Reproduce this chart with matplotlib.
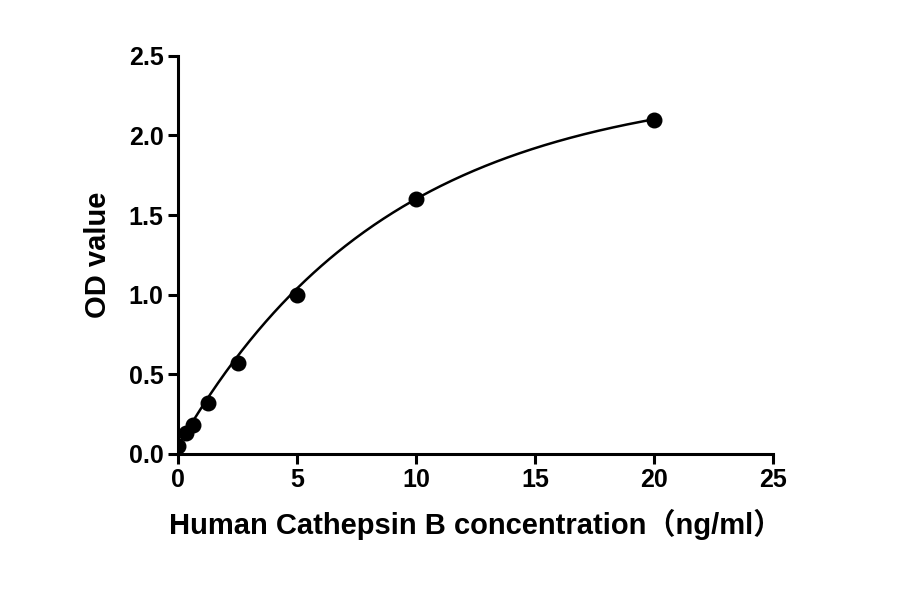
import numpy as np
import matplotlib
matplotlib.use("Agg")
import matplotlib.pyplot as plt

plt.rcParams['font.family'] = ['Liberation Sans', 'Noto Sans CJK SC', 'DejaVu Sans']
plt.rcParams['font.weight'] = 'bold'

conc = [0, 0.3125, 0.625, 1.25, 2.5, 5, 10, 20]
od = [0.05, 0.13, 0.18, 0.32, 0.57, 1.0, 1.6, 2.1]
xticks = [0, 5, 10, 15, 20, 25]
yticks = [0.0, 0.5, 1.0, 1.5, 2.0, 2.5]

fig = plt.figure(figsize=(9, 5.94), dpi=100)
ax = fig.add_axes([0.198, 0.236, 0.661, 0.670])

# saturating fit curve
a, b, c = 0.05, 2.29, 8.84
xs = np.linspace(0, max(conc), 300)
ax.plot(xs, a + b * (1 - np.exp(-xs / c)), color='black', lw=1.8)
ax.scatter(conc, od, s=110, color='black', zorder=3)

ax.set_xlim(0, 25)
ax.set_ylim(0, 2.5)
ax.set_xticks(xticks)
ax.set_yticks(yticks)
ax.set_yticklabels([f"{v:.1f}" for v in yticks])
for s in ['top', 'right']:
    ax.spines[s].set_visible(False)
for s in ['left', 'bottom']:
    ax.spines[s].set_linewidth(2.2)
ax.tick_params(width=2.2, length=7, labelsize=18)
for lab in ax.get_xticklabels() + ax.get_yticklabels():
    lab.set_fontweight('bold')
ax.set_xlabel("Human Cathepsin B concentration（ng/ml）", fontsize=21, fontweight='bold', labelpad=12)
ax.set_ylabel("OD value", fontsize=21, fontweight='bold', labelpad=12)
ax.patch.set_visible(False)
fig.savefig("out.png", dpi=100)
